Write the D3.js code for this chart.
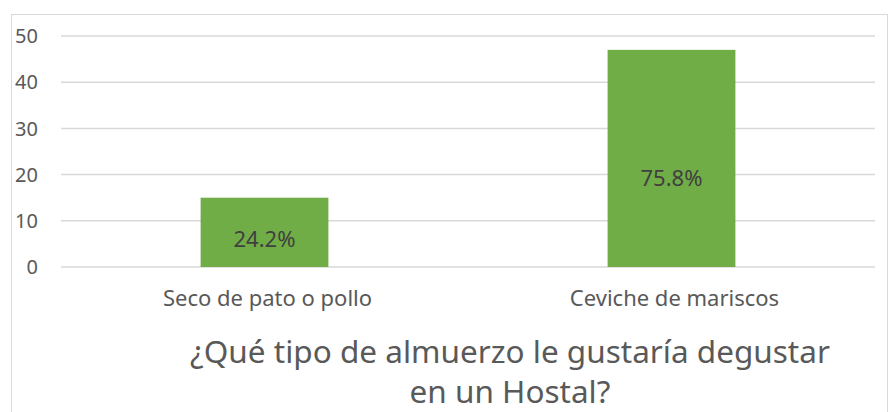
<!DOCTYPE html>
<html>
<head>
<meta charset="utf-8">
<script src="https://cdn.jsdelivr.net/npm/d3@7"></script>
<style>
  body { margin: 0; background: #fff; }
  svg text { font-family: "Noto Sans", sans-serif; }
</style>
</head>
<body>
<div id="chart"></div>
<script>
// Chart data
const categories = ["Seco de pato o pollo", "Ceviche de mariscos"];
const counts = [15, 47];
const percentLabels = ["24.2%", "75.8%"];
const yTicks = [0, 10, 20, 30, 40, 50];
const titleLines = ["¿Qué tipo de almuerzo le gustaría degustar", "en un Hostal?"];

const W = 888, H = 412;
const PLOT = {LEFT: 61, RIGHT: 875, TOP: 36, BOTTOM: 267};

const svg = d3.select("#chart")
  .append("svg")
  .attr("width", W)
  .attr("height", H);

// chart area frame
svg.append("rect")
  .attr("x", 11.5)
  .attr("y", 14.5)
  .attr("width", 876)
  .attr("height", 420)
  .attr("fill", "#fff")
  .attr("stroke", "#d9d9d9")
  .attr("stroke-width", 1);

const x = d3.scaleBand()
  .domain(categories)
  .range([PLOT.LEFT, PLOT.RIGHT])
  .paddingInner(0.686)
  .paddingOuter(0.343);

const y = d3.scaleLinear()
  .domain([0, 50])
  .range([PLOT.BOTTOM, PLOT.TOP]);

// gridlines
svg.append("g")
  .selectAll("line")
  .data(yTicks)
  .join("line")
  .attr("x1", PLOT.LEFT)
  .attr("x2", PLOT.RIGHT)
  .attr("y1", d => y(d))
  .attr("y2", d => y(d))
  .attr("stroke", "#d9d9d9")
  .attr("stroke-width", 1.5);

// y tick labels
svg.append("g")
  .selectAll("text")
  .data(yTicks)
  .join("text")
  .attr("x", 38)
  .attr("y", d => y(d))
  .attr("dy", "0.36em")
  .attr("text-anchor", "end")
  .attr("fill", "#595959")
  .attr("font-size", 20)
  .text(d => d);

// bars
svg.append("g")
  .selectAll("rect")
  .data(counts)
  .join("rect")
  .attr("x", (d, i) => x(categories[i]))
  .attr("y", d => y(d))
  .attr("width", x.bandwidth())
  .attr("height", d => y(0) - y(d))
  .attr("fill", "#70ad47");

// percentage labels inside the bars
svg.append("g")
  .selectAll("text")
  .data(counts)
  .join("text")
  .attr("x", (d, i) => x(categories[i]) + x.bandwidth() / 2)
  .attr("y", d => y(d * 0.41))
  .attr("dy", "0.36em")
  .attr("text-anchor", "middle")
  .attr("fill", "#404040")
  .attr("font-size", 22)
  .text((d, i) => percentLabels[i]);

// category labels
svg.append("g")
  .selectAll("text")
  .data(categories)
  .join("text")
  .attr("x", d => x(d) + x.bandwidth() / 2 + 3)
  .attr("y", 306)
  .attr("text-anchor", "middle")
  .attr("fill", "#595959")
  .attr("font-size", 22)
  .text(d => d);

// title
svg.append("g")
  .selectAll("text")
  .data(titleLines)
  .join("text")
  .attr("x", 510)
  .attr("y", (d, i) => 363 + i * 40)
  .attr("text-anchor", "middle")
  .attr("fill", "#595959")
  .attr("font-size", 31.5)
  .text(d => d);
</script>
</body>
</html>
